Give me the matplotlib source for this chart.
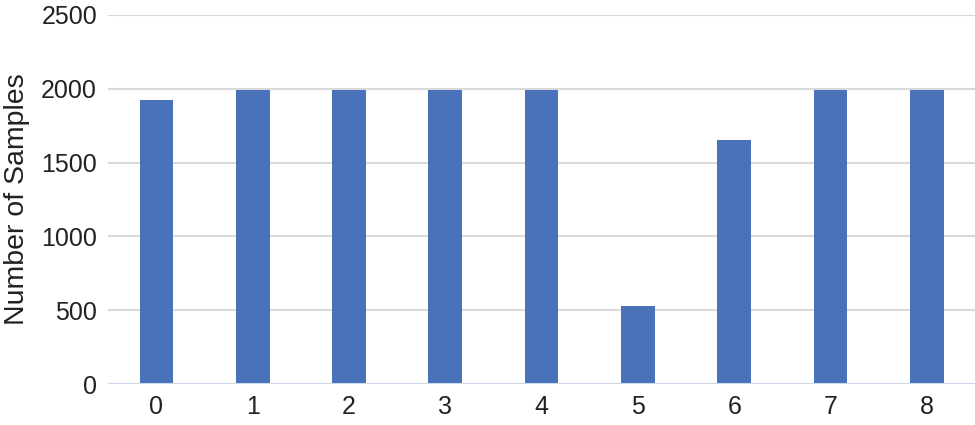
import matplotlib.pyplot as plt

# class ids and sample counts
classes = ["0", "1", "2", "3", "4", "5", "6", "7", "8"]
counts = [1924, 1992, 1992, 1992, 1992, 528, 1653, 1992, 1992]
yticks = [0, 500, 1000, 1500, 2000, 2500]

plt.rcParams["font.family"] = ["Liberation Sans", "DejaVu Sans"]

fig = plt.figure(figsize=(9.75, 4.25), dpi=100)
ax = fig.add_axes([0.111, 0.096, 0.889, 0.869])

x = range(len(classes))
ax.bar(x, counts, width=0.35, color="#4a72b8", zorder=2)

ax.set_xlim(-0.5, len(classes) - 0.5)
ax.set_ylim(0, 2500)
ax.set_yticks(yticks)
ax.set_xticks(list(x))
ax.set_xticklabels(classes)

ax.grid(axis="y", color="#d9d9d9", linewidth=1.5, zorder=0)
ax.axhline(0, color="#cfd8ea", linewidth=1.5, zorder=3)
ax.tick_params(axis="both", length=0, labelsize=18, colors="#222222", pad=8)
ax.tick_params(axis="y", pad=8)
for s in ax.spines.values():
    s.set_visible(False)

ax.set_ylabel("Number of Samples", fontsize=20.5, color="#222222", labelpad=8)

fig.savefig("out.png", dpi=100)
